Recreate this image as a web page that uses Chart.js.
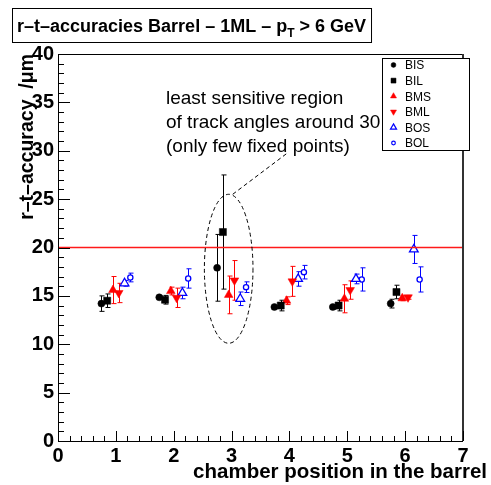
<!DOCTYPE html>
<html>
<head>
<meta charset="utf-8">
<title>r-t-accuracies Barrel - 1ML</title>
<script src="https://cdn.jsdelivr.net/npm/chart.js@4.4.1/dist/chart.umd.min.js"></script>
<style>
  html, body { margin: 0; padding: 0; background: #fff; }
  #wrap { position: relative; width: 491px; height: 485px; }
</style>
</head>
<body>
<div id="wrap"><canvas id="rt"></canvas></div>
<script>
/* r-t accuracies per chamber type, barrel, 1ML, pT > 6 GeV
   values (µm) */

const chamberNames = ['BIS', 'BIL', 'BMS', 'BML', 'BOS', 'BOL'];

const xBIS = [0.75, 1.75, 2.75, 3.74, 4.75, 5.75];
const xBIL = [0.85, 1.85, 2.85, 3.85, 4.85, 5.85];
const xBMS = [0.95, 1.95, 2.95, 3.95, 4.95, 5.95];
const xBML = [1.05, 2.05, 3.05, 4.05, 5.05, 6.05];
const xBOS = [1.15, 2.15, 3.15, 4.15, 5.15, 6.15];
const xBOL = [1.25, 2.25, 3.25, 4.25, 5.25, 6.25];

const yBIS = [14.2, 14.85, 17.9, 13.85, 13.85, 14.2];
const yBIL = [14.5, 14.6, 21.6, 14.0, 14.0, 15.4];
const yBMS = [15.6, 15.5, 15.1, 14.5, 14.7, 14.75];
const yBML = [15.3, 14.8, 16.6, 16.5, 15.6, 14.85];
const yBOS = [16.3, 15.3, 14.7, 16.75, 16.75, 19.8];
const yBOL = [16.9, 16.8, 15.9, 17.45, 16.7, 16.7];

const eBIS = [0.8, 0.2, 3.45, 0.15, 0.2, 0.45];
const eBIL = [0.7, 0.45, 5.9, 0.55, 0.55, 0.7];
const eBMS = [1.4, 0.4, 1.95, 0.4, 1.45, 0.25];
const eBML = [1.0, 1.0, 2.05, 1.55, 0.95, 0.2];
const eBOS = [0.3, 0.6, 0.7, 0.75, 0.5, 1.45];
const eBOL = [0.45, 1.0, 0.55, 0.7, 1.2, 1.3];

const limitValue = 20;
const xRange = [0, 7];
const yRange = [0, 40];

const FONT = '"Liberation Sans", Arial, Helvetica, sans-serif';

function pts(xs, ys) {
  return xs.map((x, i) => ({ x: x, y: ys[i] }));
}

/* ROOT-like marker styles */
const markers = {
  BIS: { color: '#000', fill: '#000', style: 'circle',   radius: 3.5, rot: 0 },
  BIL: { color: '#000', fill: '#000', style: 'rect',     radius: 5,   rot: 0 },
  BMS: { color: '#f00', fill: '#f00', style: 'triangle', radius: 5,   rot: 0 },
  BML: { color: '#f00', fill: '#f00', style: 'triangle', radius: 5,   rot: 180 },
  BOS: { color: '#00f', fill: '#fff', style: 'triangle', radius: 5,   rot: 0 },
  BOL: { color: '#00f', fill: '#fff', style: 'circle',   radius: 2.6, rot: 0 }
};

const xs = [xBIS, xBIL, xBMS, xBML, xBOS, xBOL];
const ys = [yBIS, yBIL, yBMS, yBML, yBOS, yBOL];
const es = [eBIS, eBIL, eBMS, eBML, eBOS, eBOL];

const datasets = chamberNames.map((name, i) => {
  const m = markers[name];
  return {
    label: name,
    data: pts(xs[i], ys[i]),
    errors: es[i],
    pointStyle: m.style,
    pointRotation: m.rot,
    pointRadius: m.radius,
    pointHoverRadius: m.radius,
    pointBackgroundColor: m.fill,
    pointBorderColor: m.color,
    pointBorderWidth: m.fill === '#fff' ? 1.3 : 0.5,
    borderColor: m.color,
    showLine: false
  };
});

datasets.unshift({
  type: 'line',
  label: 'limit',
  data: [{ x: xRange[0], y: limitValue }, { x: xRange[1], y: limitValue }],
  borderColor: '#ff1a1a',
  borderWidth: 1.5,
  pointRadius: 0,
  showLine: true
});

/* vertical error bars, drawn under the markers */
const errorBars = {
  id: 'errorBars',
  beforeDatasetsDraw(chart) {
    const { ctx, scales: { x, y } } = chart;
    chart.data.datasets.forEach((ds) => {
      if (!ds.errors) return;
      ctx.save();
      ctx.strokeStyle = ds.borderColor;
      ctx.lineWidth = 1;
      ds.data.forEach((p, k) => {
        const px = Math.round(x.getPixelForValue(p.x)) + 0.5;
        const top = y.getPixelForValue(p.y + ds.errors[k]);
        const bot = y.getPixelForValue(p.y - ds.errors[k]);
        ctx.beginPath();
        ctx.moveTo(px, top); ctx.lineTo(px, bot);
        ctx.moveTo(px - 2, top); ctx.lineTo(px + 3, top);
        ctx.moveTo(px - 2, bot); ctx.lineTo(px + 3, bot);
        ctx.stroke();
      });
      ctx.restore();
    });
  }
};

/* frame, inner ticks, annotation, legend, titles */
const decor = {
  id: 'decor',
  afterDraw(chart) {
    const { ctx, chartArea: a, scales: { x, y } } = chart;
    ctx.save();

    // frame
    ctx.strokeStyle = '#000';
    ctx.lineWidth = 1;
    ctx.strokeRect(a.left + 0.5, a.top + 0.5, a.right - a.left - 1, a.bottom - a.top);
    ctx.lineWidth = 2;
    ctx.strokeStyle = '#333';
    ctx.beginPath();
    ctx.moveTo(a.right, a.top); ctx.lineTo(a.right, a.bottom);
    ctx.stroke();

    // ticks inside the frame
    ctx.strokeStyle = '#000';
    ctx.lineWidth = 1;
    ctx.beginPath();
    for (let v = yRange[0]; v <= yRange[1]; v += 1) {
      const py = Math.round(y.getPixelForValue(v)) + 0.5;
      const len = v % 5 === 0 ? 12 : 6;
      ctx.moveTo(a.left, py); ctx.lineTo(a.left + len, py);
    }
    for (let k = 0; k <= 35; k++) {
      const v = k * 0.2;
      const px = Math.round(x.getPixelForValue(v)) + 0.5;
      const len = k % 5 === 0 ? 10 : 5;
      ctx.moveTo(px, a.bottom); ctx.lineTo(px, a.bottom - len);
    }
    ctx.stroke();

    // dashed ellipse around the 30 degree region + pointer line
    const cx = x.getPixelForValue(2.95);
    const cy = y.getPixelForValue(17.8);
    const rx = x.getPixelForValue(2.95 + 0.42) - cx;
    const ry = cy - y.getPixelForValue(17.8 + 7.7);
    ctx.setLineDash([4, 3]);
    ctx.lineWidth = 1;
    ctx.beginPath();
    ctx.ellipse(cx, cy, rx, ry, 0, 0, Math.PI * 2);
    ctx.stroke();
    ctx.beginPath();
    ctx.moveTo(x.getPixelForValue(3.02), y.getPixelForValue(25.5));
    ctx.lineTo(x.getPixelForValue(3.95), y.getPixelForValue(29.7));
    ctx.stroke();
    ctx.setLineDash([]);

    // annotation text
    ctx.fillStyle = '#000';
    ctx.font = '19px ' + FONT;
    ctx.textAlign = 'left';
    ctx.textBaseline = 'alphabetic';
    ctx.fillText('least sensitive region', 166, 104);
    ctx.fillText('of track angles around 30', 166, 128);
    ctx.fillText('(only few fixed points)', 166, 152);

    // legend box
    const lx = 382, ly = 58, lw = 87, lh = 92;
    ctx.fillStyle = '#fff';
    ctx.fillRect(lx, ly, lw, lh);
    ctx.strokeStyle = '#000';
    ctx.lineWidth = 1;
    ctx.strokeRect(lx + 0.5, ly + 0.5, lw, lh);
    ctx.font = '12px ' + FONT;
    ctx.textBaseline = 'middle';
    chamberNames.forEach((name, i) => {
      const m = markers[name];
      const rowY = 65 + i * 15.6;
      ctx.fillStyle = m.fill;
      ctx.strokeStyle = m.color;
      ctx.lineWidth = m.fill === '#fff' ? 1.2 : 0.5;
      Chart.helpers.drawPoint(ctx, {
        pointStyle: m.style,
        rotation: m.rot,
        radius: m.radius * 0.7,
        borderWidth: 1
      }, 393.5, rowY);
      ctx.fillStyle = '#000';
      ctx.fillText(name, 405, rowY + 1);
    });

    // main title box
    ctx.textBaseline = 'alphabetic';
    const t1 = 'r\u2013t\u2013accuracies Barrel \u2013 1ML \u2013 p';
    const t2 = 'T';
    const t3 = ' > 6 GeV';
    ctx.font = 'bold 18px ' + FONT;
    const w1 = ctx.measureText(t1).width;
    const w3 = ctx.measureText(t3).width;
    ctx.font = 'bold 12px ' + FONT;
    const w2 = ctx.measureText(t2).width;
    const tx = 17, tb = 32;
    ctx.fillStyle = '#fff';
    ctx.fillRect(12, 8, w1 + w2 + w3 + 10, 34);
    ctx.strokeStyle = '#000';
    ctx.lineWidth = 1;
    ctx.strokeRect(12.5, 8.5, w1 + w2 + w3 + 10, 34);
    ctx.fillStyle = '#000';
    ctx.font = 'bold 18px ' + FONT;
    ctx.fillText(t1, tx, tb);
    ctx.font = 'bold 12px ' + FONT;
    ctx.fillText(t2, tx + w1, tb + 5);
    ctx.font = 'bold 18px ' + FONT;
    ctx.fillText(t3, tx + w1 + w2, tb);

    // axis titles
    ctx.font = 'bold 20.5px ' + FONT;
    ctx.textAlign = 'right';
    ctx.fillText('chamber position in the barrel', 487, 478);
    ctx.font = 'bold 19.5px ' + FONT;
    ctx.save();
    ctx.translate(33, a.top);
    ctx.rotate(-Math.PI / 2);
    ctx.fillText('r\u2013t\u2013accuracy  /\u03bcm', 0, 0);
    ctx.restore();

    ctx.restore();
  }
};

const tickFont = { family: FONT, size: 20, weight: 'bold' };

new Chart(document.getElementById('rt'), {
  type: 'scatter',
  data: { datasets: datasets },
  options: {
    responsive: true,
    maintainAspectRatio: false,
    animation: false,
    events: [],
    layout: { padding: { top: 54, right: 28, left: 0, bottom: 0 } },
    plugins: {
      legend: { display: false },
      tooltip: { enabled: false }
    },
    scales: {
      x: {
        type: 'linear',
        min: xRange[0],
        max: xRange[1],
        grid: { display: false, drawTicks: false },
        border: { display: false },
        ticks: { stepSize: 1, color: '#000', font: tickFont, padding: 3, maxRotation: 0 },
        afterFit: (s) => { s.height = 44; }
      },
      y: {
        min: yRange[0],
        max: yRange[1],
        grid: { display: false, drawTicks: false },
        border: { display: false },
        ticks: { stepSize: 5, color: '#000', font: tickFont, padding: 4 },
        afterFit: (s) => { s.width = 58; }
      }
    }
  },
  plugins: [errorBars, decor]
});
</script>
</body>
</html>
